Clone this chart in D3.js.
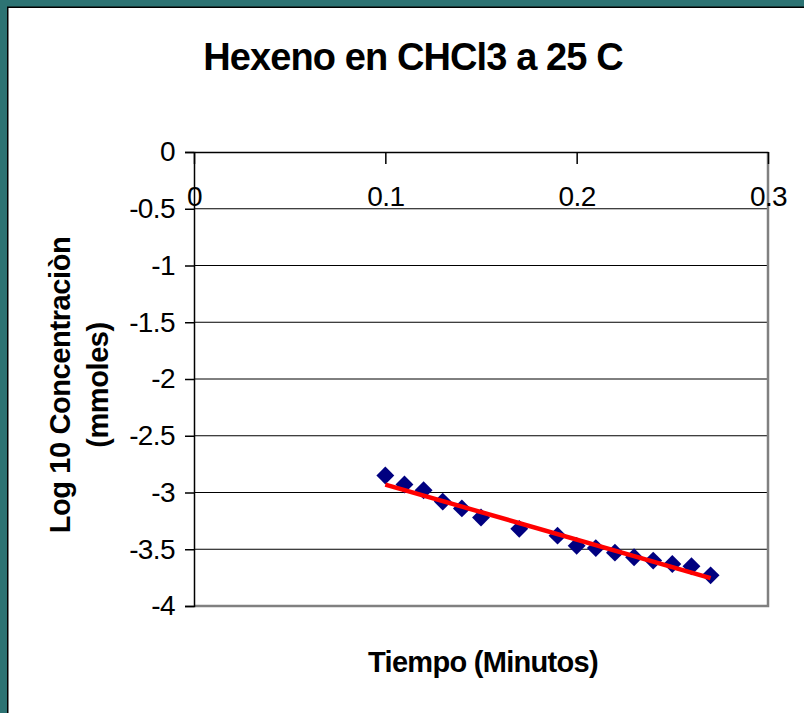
<!DOCTYPE html>
<html>
<head>
<meta charset="utf-8">
<script src="https://cdn.jsdelivr.net/npm/d3@7"></script>
<style>
  html, body { margin: 0; padding: 0; background: #2d7373; overflow: hidden; }
  svg { display: block; }
  text { font-family: "Liberation Sans", Arial, sans-serif; fill: #000; }
</style>
</head>
<body>
<div id="chart"></div>
<script>
// datos
var tiempo = [0.10, 0.11, 0.12, 0.13, 0.14, 0.15, 0.17, 0.19, 0.20, 0.21, 0.22, 0.23, 0.24, 0.25, 0.26, 0.27];
var logConc = [-2.85, -2.93, -2.98, -3.08, -3.14, -3.22, -3.32, -3.38, -3.47, -3.49, -3.53, -3.57, -3.60, -3.63, -3.65, -3.73];
// linea de tendencia (extremos)
var tendX = [0.10, 0.27];
var tendY = [-2.93, -3.755];
var xTicks = [0, 0.1, 0.2, 0.3];
var yTicks = [0, -0.5, -1, -1.5, -2, -2.5, -3, -3.5, -4];

var W = 804, H = 713;
var svg = d3.select("#chart").append("svg").attr("width", W).attr("height", H);

// panel blanco con borde negro
svg.append("rect").attr("x", 7.75).attr("y", 7.25).attr("width", W).attr("height", H)
  .attr("fill", "#fff").attr("stroke", "#000").attr("stroke-width", 1.5);

var x = d3.scaleLinear().domain([0, 0.3]).range([194, 768]);
var y = d3.scaleLinear().domain([-4, 0]).range([606, 152]);

// titulo
svg.append("text").attr("x", 413).attr("y", 70).attr("text-anchor", "middle")
  .style("font-size", "38px").style("font-weight", "bold").style("letter-spacing", "-0.9px")
  .text("Hexeno en CHCl3 a 25 C");

// lineas de division
svg.append("g").selectAll("line").data(yTicks.filter(function(d) { return d < 0 && d > -4; }))
  .enter().append("line")
  .attr("x1", x(0)).attr("x2", x(0.3))
  .attr("y1", function(d) { return y(d); }).attr("y2", function(d) { return y(d); })
  .attr("stroke", "#000").attr("stroke-width", 1);

// borde del area de trazado (gris)
svg.append("path")
  .attr("d", "M" + x(0.3) + "," + y(0) + "V" + y(-4) + "H" + x(0))
  .attr("fill", "none").attr("stroke", "#808080").attr("stroke-width", 2.5);

// eje y
var yAxis = svg.append("g").attr("transform", "translate(" + x(0) + ",0)")
  .call(d3.axisLeft(y).tickValues(yTicks).tickSize(9).tickPadding(10)
    .tickFormat(function(d) { return String(d); }));
yAxis.select(".domain").attr("stroke", "#000").attr("stroke-width", 1.5);
yAxis.selectAll(".tick line").attr("stroke", "#000").attr("stroke-width", 1.5);
yAxis.selectAll("text").style("font-size", "28px").style("letter-spacing", "-0.6px")
  .attr("fill", "#000").attr("font-family", null);

// eje x (arriba, en y = 0)
var xAxis = svg.append("g").attr("transform", "translate(0," + y(0) + ")")
  .call(d3.axisBottom(x).tickValues(xTicks).tickSize(12).tickSizeOuter(0).tickPadding(2)
    .tickFormat(function(d) { return String(d); }));
xAxis.select(".domain").attr("stroke", "#000").attr("stroke-width", 1.5);
xAxis.selectAll(".tick line").attr("stroke", "#000").attr("stroke-width", 1.5);
xAxis.selectAll("text").style("font-size", "28px").style("letter-spacing", "-0.6px")
  .attr("fill", "#000").attr("font-family", null).attr("dy", "1.42em");

// puntos
svg.append("g").selectAll("path").data(tiempo).enter().append("path")
  .attr("d", d3.symbol().type(d3.symbolSquare).size(160))
  .attr("transform", function(d, i) {
    return "translate(" + x(d) + "," + y(logConc[i]) + ") rotate(45)";
  })
  .attr("fill", "#000080");

// linea de tendencia
svg.append("path").datum(tendX)
  .attr("d", d3.line().x(function(d) { return x(d); }).y(function(d, i) { return y(tendY[i]); }))
  .attr("stroke", "#ff0000").attr("stroke-width", 4.5).attr("fill", "none");

// titulos de los ejes
svg.append("text").attr("x", 483).attr("y", 672).attr("text-anchor", "middle")
  .style("font-size", "29px").style("font-weight", "bold").style("letter-spacing", "-0.7px")
  .text("Tiempo (Minutos)");

var yt = svg.append("text").attr("transform", "translate(70,385) rotate(-90)")
  .attr("text-anchor", "middle")
  .style("font-size", "29px").style("font-weight", "bold").style("letter-spacing", "-0.4px");
yt.append("tspan").attr("x", 0).attr("dy", 0).text("Log 10 Concentraciòn");
yt.append("tspan").attr("x", 0).attr("dy", 38).text("(mmoles)");
</script>
</body>
</html>
